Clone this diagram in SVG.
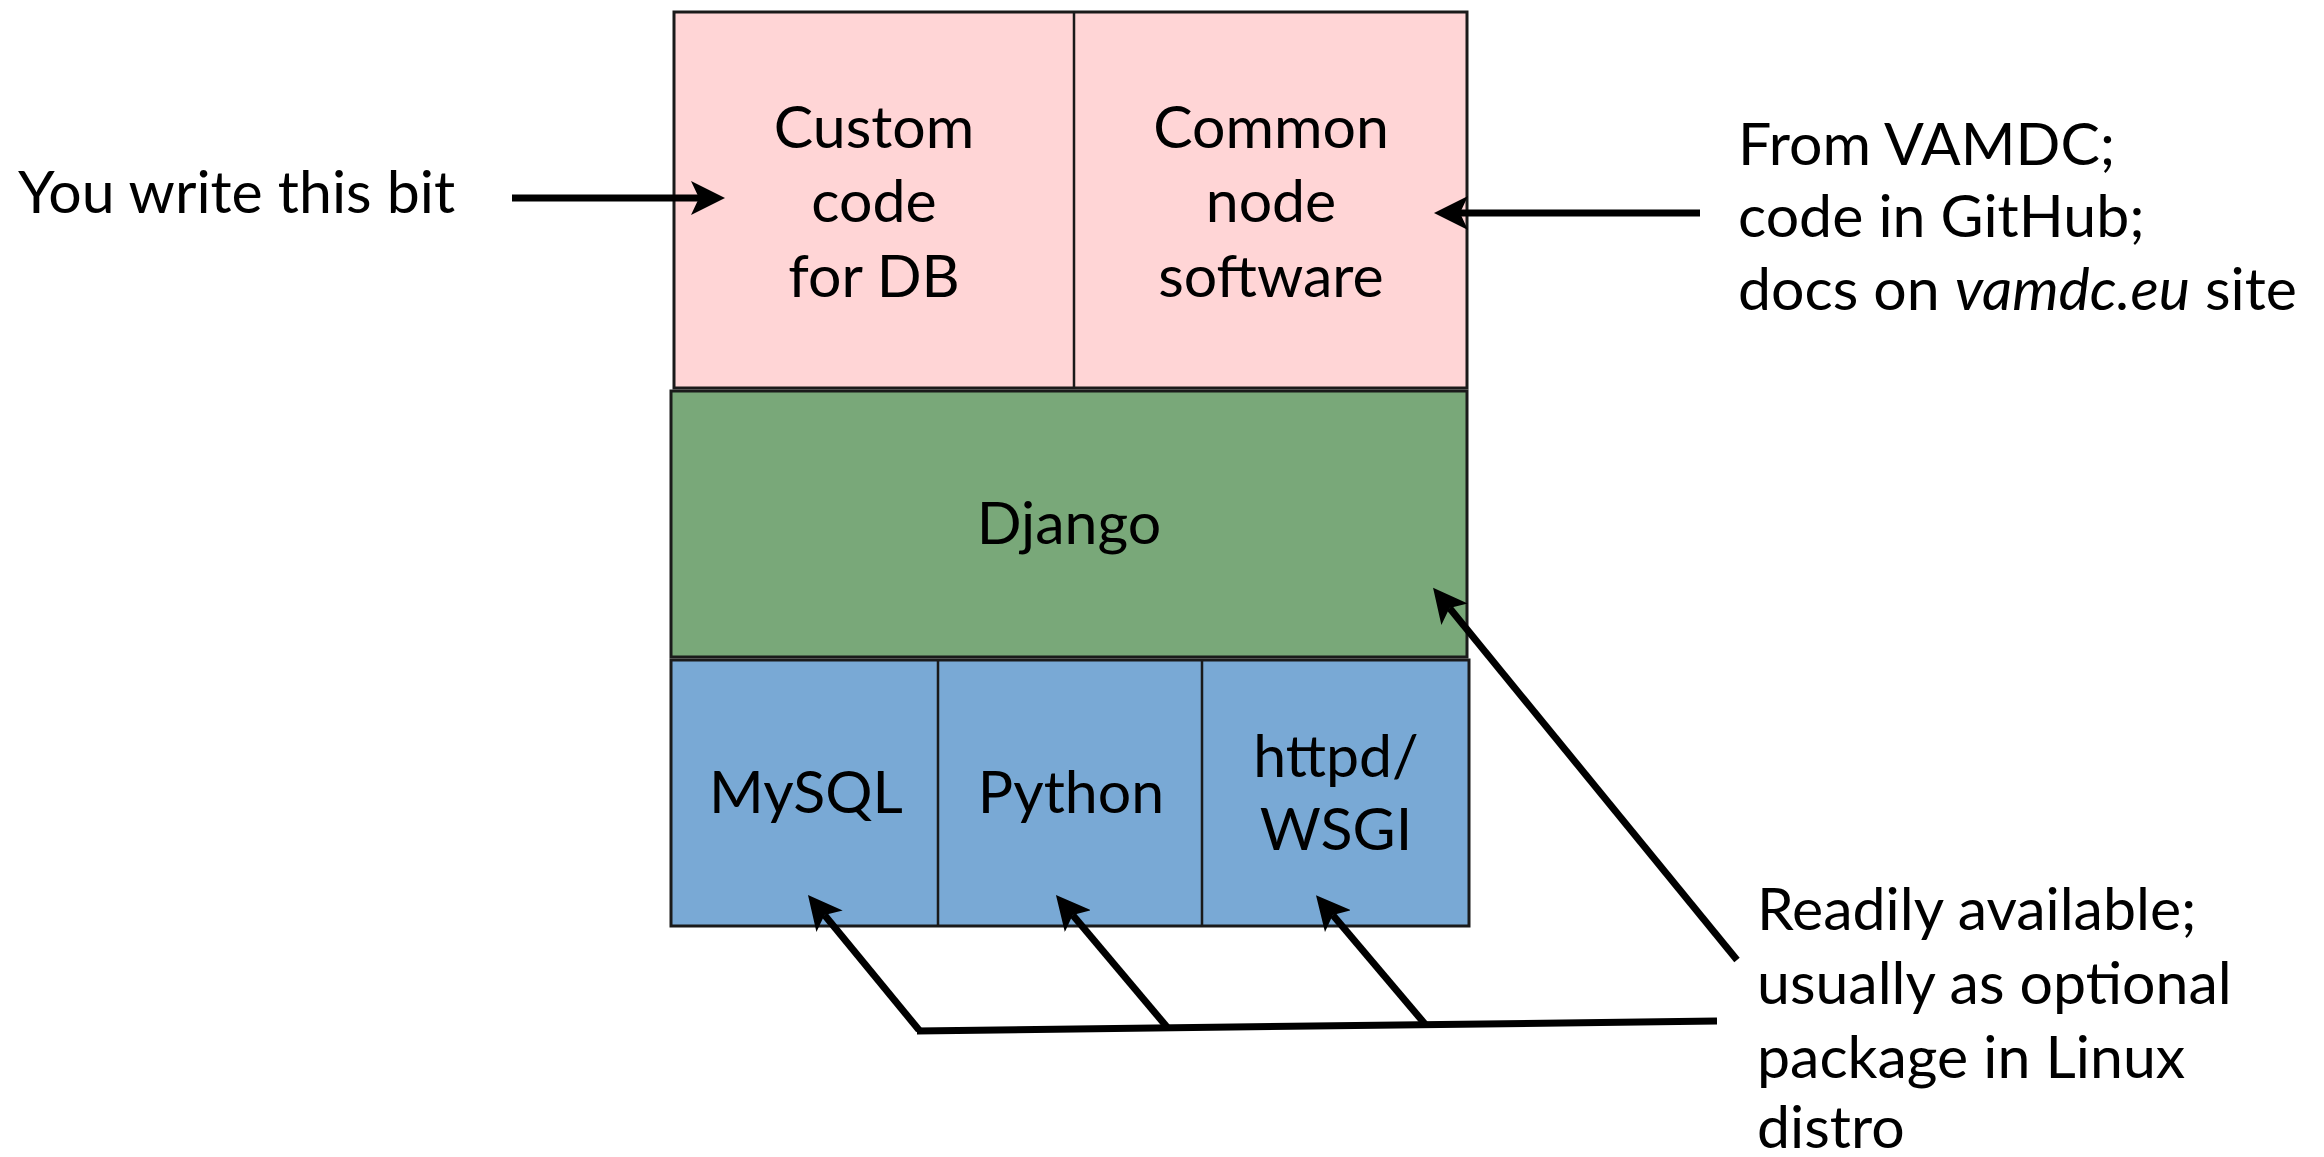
<svg xmlns="http://www.w3.org/2000/svg" width="2324" height="1157" viewBox="0 0 2324 1157">
<style>
.t{font-family:Lato,"Open Sans","Liberation Sans",sans-serif;font-size:59px;fill:#000}
.m{text-anchor:middle}
.box{stroke:#1a1a1a;stroke-width:3}
.div{stroke:#1a1a1a;stroke-width:2.5}
.pink{fill:#FFD5D6}
.green{fill:#79A879}
.blue{fill:#79A9D5}
.c{stroke:#000;stroke-width:7;fill:none}
.a{marker-end:url(#ah)}
</style>
<defs>
<marker id="ah" viewBox="0 0 34 34" refX="8" refY="17" markerWidth="34" markerHeight="34" markerUnits="userSpaceOnUse" orient="auto">
<path d="M34,17 L0,0 L8,17 L0,34 Z" fill="#000"/>
</marker>
</defs>
<rect width="2324" height="1157" fill="#fff"/>
<g id="top-layer">
<rect class="box pink" x="674" y="12" width="793" height="376"/>
<line class="div" x1="1074" y1="12" x2="1074" y2="388"/>
</g>
<g id="custom-code">
<text class="t m" x="874" y="148">Custom</text>
<text class="t m" x="874" y="222">code</text>
<text class="t m" x="874" y="297">for DB</text>
</g>
<g id="common-node">
<text class="t m" x="1271" y="148">Common</text>
<text class="t m" x="1271" y="222">node</text>
<text class="t m" x="1271" y="297">software</text>
</g>
<g id="django">
<rect class="box green" x="671" y="391" width="796" height="266"/>
<text class="t m" x="1069" y="544">Django</text>
</g>
<g id="bottom-layer">
<rect class="box blue" x="671" y="660" width="798" height="266"/>
<line class="div" x1="938" y1="660" x2="938" y2="926"/>
<line class="div" x1="1202" y1="660" x2="1202" y2="926"/>
</g>
<g id="mysql"><text class="t m" x="806" y="813">MySQL</text></g>
<g id="python"><text class="t m" x="1071" y="813">Python</text></g>
<g id="httpd">
<text class="t m" x="1336" y="777">httpd/</text>
<text class="t m" x="1336" y="850">WSGI</text>
</g>
<g id="label-you">
<text class="t" x="18" y="213">You write this bit</text>
</g>
<g id="label-vamdc">
<text class="t" x="1738" y="165">From VAMDC;</text>
<text class="t" x="1738" y="237">code in GitHub;</text>
<text class="t" x="1738" y="310">docs on <tspan font-style="italic">vamdc.eu</tspan> site</text>
</g>
<g id="label-readily">
<text class="t" x="1757" y="930">Readily available;</text>
<text class="t" x="1757" y="1004">usually as optional</text>
<text class="t" x="1757" y="1078">package in Linux</text>
<text class="t" x="1757" y="1148">distro</text>
</g>
<g id="connectors">
<line class="c a" x1="512" y1="198" x2="699" y2="198"/>
<line class="c a" x1="1700" y1="213" x2="1460" y2="213"/>
<line class="c a" x1="1737" y1="960" x2="1449.5" y2="608"/>
<line class="c" x1="917" y1="1031" x2="1717" y2="1021"/>
<line class="c a" x1="919" y1="1030" x2="824.5" y2="915"/>
<line class="c a" x1="1167" y1="1027" x2="1072.7" y2="915"/>
<line class="c a" x1="1425" y1="1024" x2="1332.8" y2="915"/>
</g>
</svg>
